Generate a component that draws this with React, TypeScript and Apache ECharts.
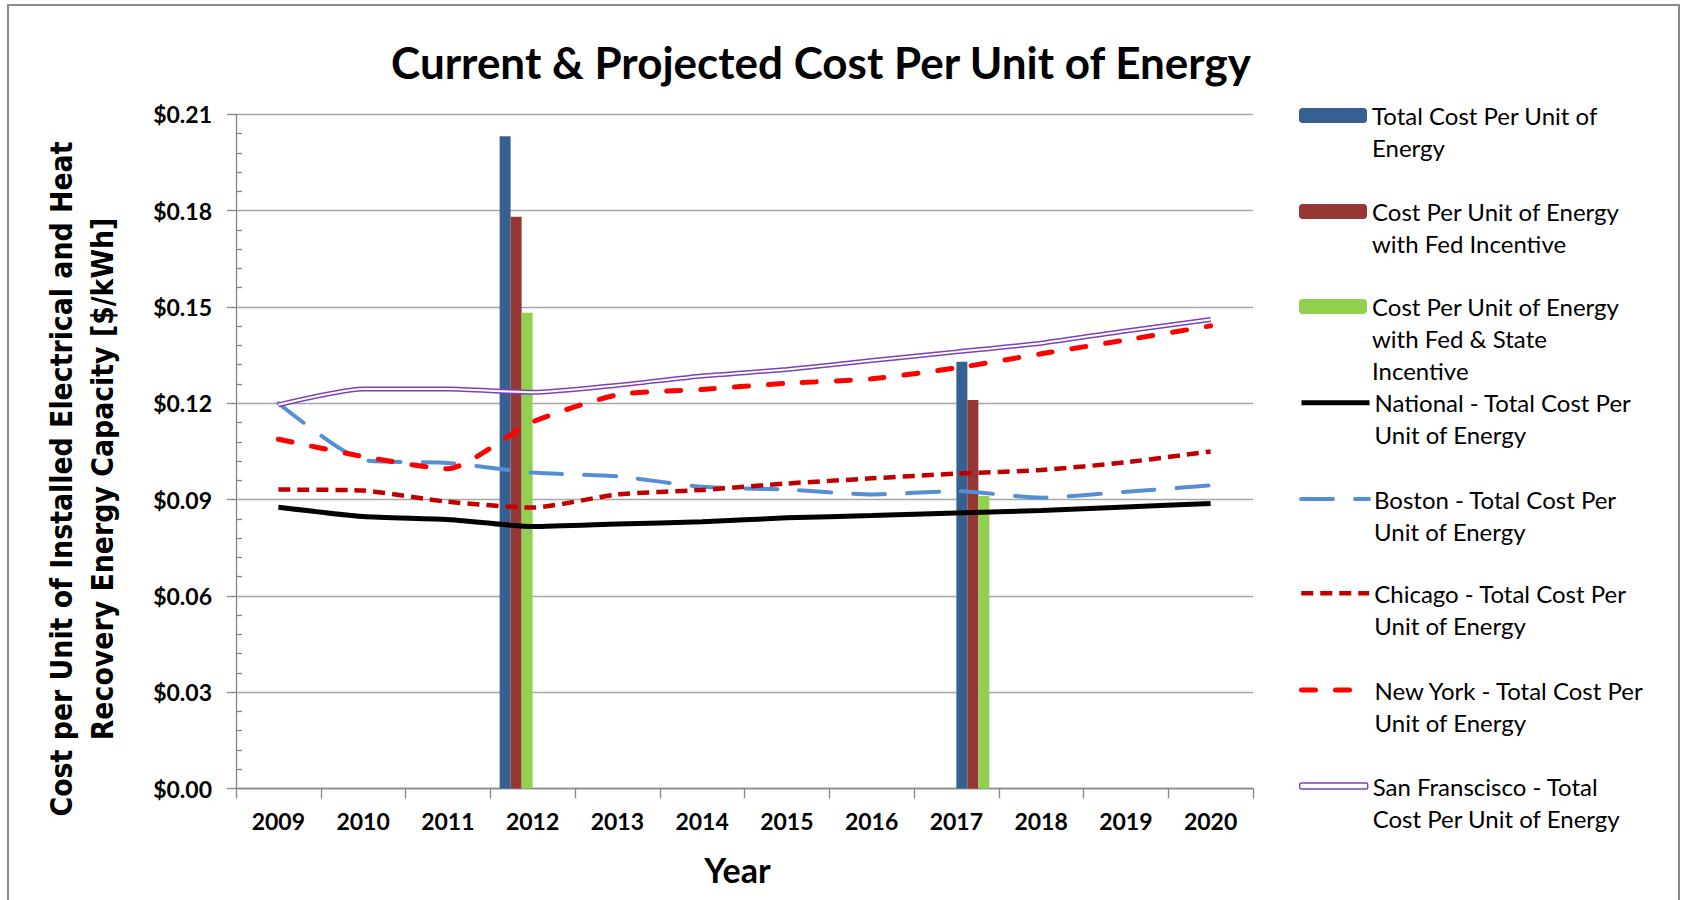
import React, { useEffect, useRef } from "react";
import * as echarts from "echarts";

const years = ["2009", "2010", "2011", "2012", "2013", "2014", "2015", "2016", "2017", "2018", "2019", "2020"];

// Bars: the 2012 values and the 2017 values are separate bar series (six-bar cluster)
const totalCost2012 = [null, null, null, 0.2032, null, null, null, null, null, null, null, null];
const fedIncentive2012 = [null, null, null, 0.1781, null, null, null, null, null, null, null, null];
const fedStateIncentive2012 = [null, null, null, 0.1482, null, null, null, null, null, null, null, null];
const totalCost2017 = [null, null, null, null, null, null, null, null, 0.1329, null, null, null];
const fedIncentive2017 = [null, null, null, null, null, null, null, null, 0.1210, null, null, null];
const fedStateIncentive2017 = [null, null, null, null, null, null, null, null, 0.0911, null, null, null];

const national = [0.0876, 0.0847, 0.0838, 0.0816, 0.0824, 0.0831, 0.0843, 0.0850, 0.0858, 0.0866, 0.0877, 0.0888];
const boston = [0.1200, 0.1023, 0.1014, 0.0984, 0.0972, 0.0940, 0.0931, 0.0916, 0.0926, 0.0906, 0.0924, 0.0944];
const chicago = [0.0931, 0.0928, 0.0893, 0.0875, 0.0916, 0.0930, 0.0950, 0.0966, 0.0981, 0.0992, 0.1016, 0.1050];
const newYork = [0.1088, 0.1034, 0.0996, 0.1142, 0.1226, 0.1243, 0.1262, 0.1276, 0.1310, 0.1354, 0.1397, 0.1441];
const sanFrancisco = [0.1195, 0.1244, 0.1244, 0.1234, 0.1256, 0.1285, 0.1305, 0.1333, 0.1360, 0.1387, 0.1425, 0.1461];

const yTicks = [0, 0.21, 0.03];

const seriesNames = [
  "Total Cost Per Unit of Energy",
  "Cost Per Unit of Energy with Fed Incentive",
  "Cost Per Unit of Energy with Fed & State Incentive",
  "National - Total Cost Per Unit of Energy",
  "Boston - Total Cost Per Unit of Energy",
  "Chicago - Total Cost Per Unit of Energy",
  "New York - Total Cost Per Unit of Energy",
  "San Franscisco - Total Cost Per Unit of Energy",
];
const legendLabels = [
  "Total Cost Per Unit of\nEnergy",
  "Cost Per Unit of Energy\nwith Fed Incentive",
  "Cost Per Unit of Energy\nwith Fed & State\nIncentive",
  "National - Total Cost Per\nUnit of Energy",
  "Boston - Total Cost Per\nUnit of Energy",
  "Chicago - Total Cost Per\nUnit of Energy",
  "New York - Total Cost Per\nUnit of Energy",
  "San Franscisco - Total\nCost Per Unit of Energy",
];

const BLUE = "#376092";
const DARKRED = "#953735";
const GREEN = "#92D050";
const PURPLE = "#7B42B8";
const AXIS_GRAY = "#868686";
const LH = 32;
const legendCenters = [115.5, 211.5, 306.5, 402.7, 499, 593.3, 690, 786];
const legendLineWidths = [0, 0, 0, 5, 4, 4.5, 5, 0];

export default function App() {
  const ref = useRef<HTMLDivElement>(null);

  useEffect(() => {
    if (!ref.current) return;
    const chart = echarts.init(ref.current, null, { renderer: "svg" });

    const legends = seriesNames.map((name, i) => {
      const lines = legendLabels[i].split("\n").length;
      const isSF = i === 7;
      const isLine = i >= 3 && !isSF;
      const leg: any = {
        data: [
          isSF
            ? { name, icon: "roundRect", itemStyle: { color: "#ffffff", borderColor: PURPLE, borderWidth: 1.4, opacity: 1 } }
            : name,
        ],
        left: 1299,
        top: legendCenters[i] - ((2 * lines - 1) * LH) / 2,
        orient: "vertical",
        padding: 0,
        itemWidth: 68,
        itemHeight: isSF ? 6 : 15,
        selectedMode: false,
        // leading blank lines keep the first text line level with the key
        formatter: () => "\n".repeat(lines - 1) + legendLabels[i],
        textStyle: { fontFamily: "Lato", fontSize: 24, lineHeight: LH, color: "#000" },
      };
      if (isLine) {
        leg.itemStyle = { opacity: 0 };
        leg.lineStyle = { width: legendLineWidths[i] };
      }
      return leg;
    });

    const barBase = { type: "bar", barWidth: 11, barGap: 0 };

    const option: any = {
      animation: false,
      backgroundColor: "#ffffff",
      title: {
        text: "Current & Projected Cost Per Unit of Energy",
        left: 821,
        top: 37,
        padding: 0,
        textAlign: "center",
        textStyle: { fontFamily: "Lato", fontWeight: "bold", fontSize: 44, lineHeight: 50, color: "#000" },
      },
      legend: legends,
      grid: { left: 236, right: 430, top: 114.3, bottom: 111.5, containLabel: false },
      xAxis: {
        type: "category",
        data: years,
        boundaryGap: true,
        axisLine: { show: true, lineStyle: { color: AXIS_GRAY, width: 1.3 } },
        axisTick: { show: true, length: 10, alignWithLabel: false, lineStyle: { color: AXIS_GRAY, width: 1.3 } },
        axisLabel: { interval: 0, fontFamily: "Lato", fontWeight: "bold", fontSize: 23, color: "#000", margin: 21 },
        splitLine: { show: false },
        name: "Year",
        nameLocation: "middle",
        nameGap: 64,
        nameTextStyle: { fontFamily: "Lato", fontWeight: "bold", fontSize: 34, color: "#000", padding: [0, 14, 0, 0] },
      },
      yAxis: [
        {
          type: "value",
          position: "left",
          min: yTicks[0],
          max: yTicks[1],
          interval: yTicks[2],
          axisLine: { show: true, lineStyle: { color: AXIS_GRAY, width: 1.3 } },
          axisTick: { show: true, length: 9, lineStyle: { color: AXIS_GRAY, width: 1.3 } },
          axisLabel: {
            formatter: (v: number) => "$" + v.toFixed(2),
            fontFamily: "Lato",
            fontWeight: "bold",
            fontSize: 23,
            color: "#000",
            margin: 24,
          },
          splitLine: { show: true, lineStyle: { color: "#A6A6A6", width: 1.3 } },
        },
        {
          type: "value",
          position: "left",
          offset: 0,
          min: yTicks[0],
          max: yTicks[1],
          interval: yTicks[2],
          axisLine: { show: false },
          axisTick: { show: false, inside: true },
          axisLabel: { show: false },
          splitLine: { show: false },
          minorTick: { show: true, splitNumber: 5, length: 6, lineStyle: { color: AXIS_GRAY, width: 1.3 } },
        },
      ],
      series: [
        { ...barBase, name: seriesNames[0], data: totalCost2012, itemStyle: { color: BLUE } },
        { ...barBase, name: seriesNames[1], data: fedIncentive2012, itemStyle: { color: DARKRED } },
        { ...barBase, name: seriesNames[2], data: fedStateIncentive2012, itemStyle: { color: GREEN } },
        { ...barBase, name: seriesNames[0], data: totalCost2017, itemStyle: { color: BLUE } },
        { ...barBase, name: seriesNames[1], data: fedIncentive2017, itemStyle: { color: DARKRED } },
        { ...barBase, name: seriesNames[2], data: fedStateIncentive2017, itemStyle: { color: GREEN } },
        {
          name: seriesNames[3], type: "line", data: national, symbol: "none", smooth: 0.2,
          lineStyle: { color: "#000000", width: 5 }, itemStyle: { color: "#000000" },
        },
        {
          name: seriesNames[4], type: "line", data: boston, symbol: "none", smooth: 0.2,
          lineStyle: { color: "#558ED5", width: 4, type: [32, 22], cap: "round" }, itemStyle: { color: "#558ED5" },
        },
        {
          name: seriesNames[5], type: "line", data: chicago, symbol: "none", smooth: 0.2,
          lineStyle: { color: "#C00000", width: 4.5, type: [12, 7] }, itemStyle: { color: "#C00000" },
        },
        {
          name: seriesNames[6], type: "line", data: newYork, symbol: "none", smooth: 0.2,
          lineStyle: { color: "#FF0000", width: 5, type: [14, 20], cap: "round" }, itemStyle: { color: "#FF0000" },
        },
        {
          name: seriesNames[7], type: "line", data: sanFrancisco, symbol: "none", smooth: 0.2,
          lineStyle: { color: PURPLE, width: 5 }, itemStyle: { color: PURPLE },
        },
        {
          id: "sf-inner", type: "line", data: sanFrancisco, symbol: "none", smooth: 0.2, silent: true,
          lineStyle: { color: "#ffffff", width: 2 }, itemStyle: { color: "#ffffff" },
        },
      ],
      graphic: [
        {
          type: "rect",
          silent: true,
          z: -10,
          shape: { x: 8, y: 5, width: 1671, height: 1000 },
          style: { fill: "none", stroke: "#8C8C8C", lineWidth: 2 },
        },
        {
          type: "text",
          x: 82,
          y: 479,
          rotation: Math.PI / 2,
          scaleY: 1.15,
          style: {
            text: "Cost per Unit of Installed Electrical and Heat\nRecovery Energy Capacity [$/kWh]",
            fontFamily: "DejaVu Sans",
            fontWeight: "bold",
            fontSize: 26.8,
            lineHeight: 36,
            fill: "#000",
            align: "center",
            verticalAlign: "middle",
          },
        },
      ],
    };

    chart.setOption(option);
    return () => chart.dispose();
  }, []);

  return (
    <div
      ref={ref}
      style={{ position: "absolute", left: 0, top: 0, width: 1683, height: 900, background: "#fff" }}
    />
  );
}
